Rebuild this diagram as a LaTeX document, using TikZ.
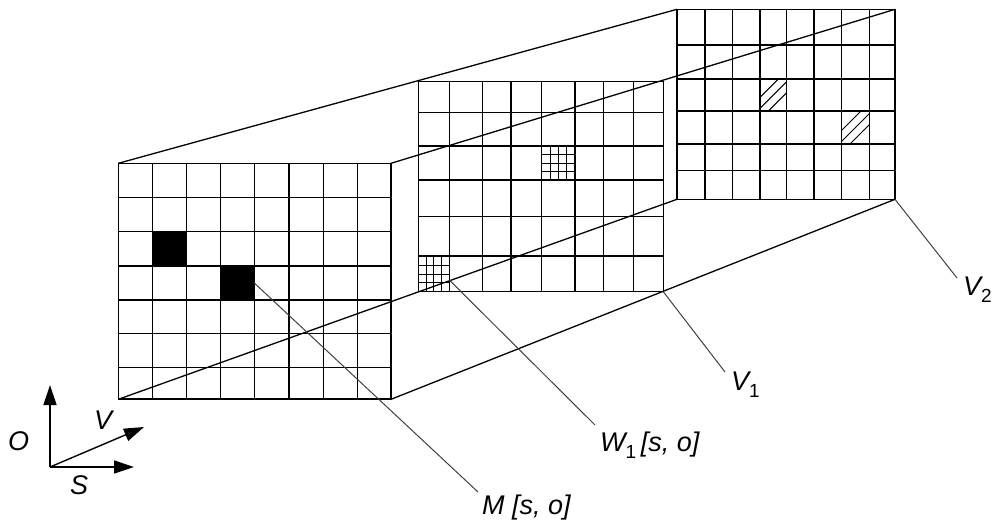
\documentclass[tikz,border=0pt]{standalone}
\usepackage{fontspec}
\setmainfont{Liberation Sans}
\usetikzlibrary{arrows.meta}
\newcommand{\subone}[1]{\raisebox{-0.27em}{\fontsize{19}{19}\selectfont\upshape #1}}
\begin{document}
\begin{tikzpicture}[x=1pt,y=-1pt,
  gridline/.style={line width=1.1pt},
  frame/.style={line width=1.3pt},
  edgeline/.style={line width=1.3pt},
  leader/.style={line width=1pt, black!75},
  lbl/.style={font=\fontsize{27}{27}\selectfont\itshape, inner sep=0pt, anchor=base west},
  axis/.style={line width=1.4pt, -{Triangle[length=20pt,width=13pt]}},
  fine/.style={line width=0.7pt},
  finebox/.style={line width=1.5pt},
  hatch/.style={line width=1pt}
]
\useasboundingbox (0,0) rectangle (992,523);

% ---------- corner coordinates ----------
\coordinate (Ftl) at (118.3,163.3);
\coordinate (Ftr) at (391,163.3);
\coordinate (Fbl) at (118.3,399.3);
\coordinate (Fbr) at (391,399.3);
\coordinate (Btl) at (677,9.3);
\coordinate (Btr) at (895,9.3);
\coordinate (Bbl) at (677,199.3);
\coordinate (Bbr) at (895,199.3);
\coordinate (Mbr) at (663.3,291.7);

% ---------- front grid (M) ----------
\fill (152.3,231.7) rectangle (186.7,266);
\fill (220.7,266) rectangle (254.3,300);
\foreach \x in {152.3,186.7,220.7,254.3,289,323.3,357.3}
  \draw[gridline] (\x,163.3) -- (\x,399.3);
\foreach \y in {197.7,231.7,266,300,333.3,367.3}
  \draw[gridline] (118.3,\y) -- (391,\y);
\draw[frame] (Ftl) rectangle (Fbr);
\draw[line width=2pt] (Fbl) -- (Fbr);

% ---------- middle grid (W1) ----------
\foreach \x in {449.3,482.7,511,541.7,575,603.3,633.3}
  \draw[gridline] (\x,81.7) -- (\x,291.7);
\foreach \y in {112.7,146,180,216.7,256}
  \draw[gridline] (418.3,\y) -- (663.3,\y);
\draw[frame] (418.3,81.7) rectangle (Mbr);
% fine cells
\foreach \xa/\ya/\xb/\yb in {541.7/146/575/180, 418.3/256/449.3/291.7}{
  \foreach \k in {1,2,3}{
    \draw[fine] ({\xa+\k*(\xb-\xa)/4},\ya) -- ({\xa+\k*(\xb-\xa)/4},\yb);
    \draw[fine] (\xa,{\ya+\k*(\yb-\ya)/4}) -- (\xb,{\ya+\k*(\yb-\ya)/4});
  }
  \draw[finebox] (\xa,\ya) rectangle (\xb,\yb);
}

% ---------- back grid (V2) ----------
\foreach \x in {705,732.7,760,786.7,814,841.7,869.3}
  \draw[gridline] (\x,9.3) -- (\x,199.3);
\foreach \y in {45,79,111,144,170.7}
  \draw[gridline] (677,\y) -- (895,\y);
\draw[frame] (Btl) rectangle (Bbr);
% hatched cells
\foreach \xa/\ya/\xb/\yb in {760/79/786.7/111, 841.7/111/869.3/144}{
  \begin{scope}
    \clip (\xa,\ya) rectangle (\xb,\yb);
    \foreach \c in {-11,0,11}
      \draw[hatch] ({(\xa+\xb)/2+\c-30},{(\ya+\yb)/2+30}) -- ({(\xa+\xb)/2+\c+30},{(\ya+\yb)/2-30});
  \end{scope}
  \draw[finebox] (\xa,\ya) rectangle (\xb,\yb);
}

% ---------- box edges ----------
\draw[edgeline] (Ftl) -- (Btl);
\draw[edgeline] (Ftr) -- (Btr);
\draw[edgeline] (Fbl) -- (Bbl);
\draw[edgeline] (Fbr) -- (Bbr);

% ---------- leaders and labels ----------
\coordinate (mstart) at (254.3,283);
\coordinate (mend) at (478,492);
\coordinate (wstart) at (449.3,280);
\coordinate (wend) at (595,425);
\coordinate (v1end) at (725,372);
\coordinate (v2end) at (957,278);
\draw[leader] (mstart) -- (mend);
\draw[leader] (wstart) -- (wend);
\draw[leader] (Mbr) -- (v1end);
\draw[leader] (Bbr) -- (v2end);

\node[lbl] (lM) at (482,514) {M [s, o]};
\node[lbl] (lW) at (600,451) {W\subone{1}\,[s, o]};
\node[lbl] (lV1) at (731,390) {V\subone{1}};
\node[lbl] (lV2) at (963,295) {V\subone{2}};

% ---------- axes ----------
\coordinate (org) at (50,467);
\coordinate (otip) at (50,385);
\coordinate (stip) at (134,467);
\coordinate (vtip) at (144,427);
\draw[axis] (org) -- (otip);
\draw[axis] (org) -- (stip);
\draw[axis] (org) -- (vtip);
\node[lbl] (lO) at (8,450) {O};
\node[lbl] (lVax) at (94,429) {V};
\node[lbl] (lS) at (70,494) {S};
\end{tikzpicture}
\end{document}
